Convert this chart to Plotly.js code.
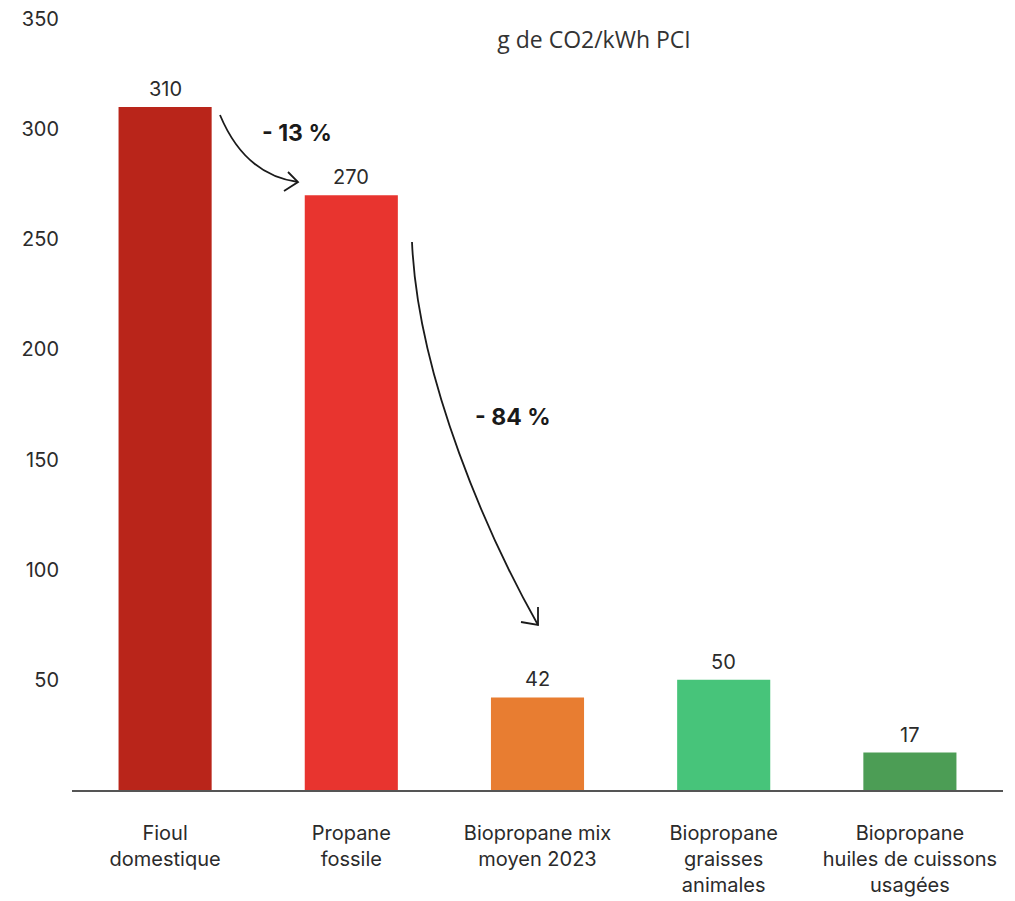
<!DOCTYPE html>
<html>
<head>
<meta charset="utf-8">
<script src="https://cdn.plot.ly/plotly-3.0.1.min.js"></script>
<style>html,body{margin:0;padding:0;background:#fff;}#chart{width:1015px;height:901px;}</style>
</head>
<body>
<div id="chart"></div>
<script>
const categories = ["Fioul<br>domestique", "Propane<br>fossile", "Biopropane mix<br>moyen 2023", "Biopropane<br>graisses<br>animales", "Biopropane<br>huiles de cuissons<br>usagées"];
const values = [310, 270, 42, 50, 17];
const barColors = ["#B9251A", "#E8342F", "#E87D31", "#47C47A", "#4C9D55"];
const yTicks = [50, 100, 150, 200, 250, 300, 350];
const titleText = "g de CO2/kWh PCI";
const changeLabels = ["- 13 %", "- 84 %"];

const W = 1015, H = 901;
const M = {l: 72, r: 12, t: 19, b: 111};
const FONT = "Inter, Lato, sans-serif";
const TXT = "#2b2b2b";

// pixel -> paper helpers for decorative arrows
const px = x => (x - M.l) / (W - M.l - M.r);
const py = y => (H - M.b - y) / (H - M.t - M.b);

function arrowShapes() {
  const line = {color: "#1a1a1a", width: 1.8};
  const s = [];
  s.push({type: "path", xref: "paper", yref: "paper",
    path: `M ${px(220)},${py(115)} Q ${px(245)},${py(175)} ${px(298)},${py(182)}`, line});
  s.push({type: "path", xref: "paper", yref: "paper",
    path: `M ${px(288)},${py(172)} L ${px(298)},${py(182)} L ${px(284)},${py(191)}`, line});
  s.push({type: "path", xref: "paper", yref: "paper",
    path: `M ${px(412)},${py(242)} C ${px(418)},${py(380)} ${px(490)},${py(540)} ${px(538)},${py(625)}`, line});
  s.push({type: "path", xref: "paper", yref: "paper",
    path: `M ${px(521)},${py(622)} L ${px(538)},${py(625)} L ${px(538)},${py(607)}`, line});
  return s;
}

const valueAnnotations = categories.map((c, i) => ({
  x: c, y: values[i], xref: "x", yref: "y", text: String(values[i]),
  showarrow: false, yshift: 18, font: {family: FONT, size: 20, color: TXT}
}));

const changeAnnotations = [
  {xref: "paper", yref: "paper", x: px(297), y: py(133), xanchor: "center", yanchor: "middle",
   text: "<b>" + changeLabels[0] + "</b>", showarrow: false, font: {family: FONT, size: 23, color: "#1a1a1a"}},
  {xref: "paper", yref: "paper", x: px(513), y: py(417), xanchor: "center", yanchor: "middle",
   text: "<b>" + changeLabels[1] + "</b>", showarrow: false, font: {family: FONT, size: 23, color: "#1a1a1a"}}
];

const trace = {
  type: "bar", x: categories, y: values,
  marker: {color: barColors, line: {width: 0}},
  width: 0.5, hoverinfo: "skip"
};

const layout = {
  width: W, height: H,
  margin: M,
  paper_bgcolor: "#ffffff", plot_bgcolor: "#ffffff",
  showlegend: false,
  title: {text: titleText, x: 594 / W, xanchor: "center", y: 1 - 40 / H, yanchor: "middle", yref: "container",
          font: {family: "Open Sans, sans-serif", size: 23, color: "#333"}},
  xaxis: {
    type: "category", showgrid: false, zeroline: false,
    showline: true, linecolor: "#555", linewidth: 2,
    ticks: "", tickfont: {family: FONT, size: 20, color: TXT},
    ticklabelstandoff: 24, fixedrange: true
  },
  yaxis: {
    range: [0, 350], showgrid: false, zeroline: false, showline: false,
    tickmode: "array", tickvals: yTicks, ticktext: yTicks.map(String),
    ticks: "", tickfont: {family: FONT, size: 20, color: TXT},
    ticklabelstandoff: 12, fixedrange: true
  },
  shapes: arrowShapes(),
  annotations: valueAnnotations.concat(changeAnnotations)
};

Plotly.newPlot("chart", [trace], layout, {displayModeBar: false, staticPlot: true});
</script>
</body>
</html>
